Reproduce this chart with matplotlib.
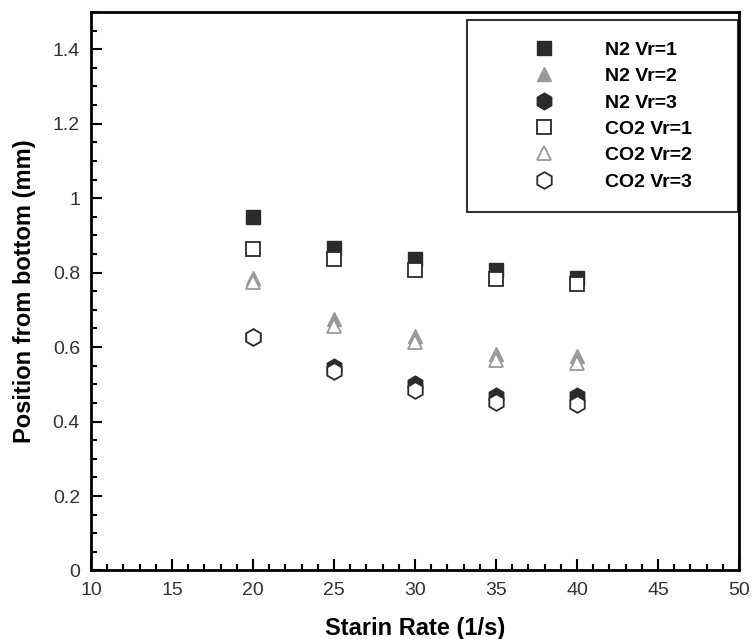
import matplotlib
matplotlib.use("Agg")
import matplotlib.pyplot as plt
from matplotlib.ticker import MultipleLocator

plt.rcParams['font.family'] = ['Liberation Sans', 'DejaVu Sans']

strain_rate = [20, 25, 30, 35, 40]
n2_vr1 = [0.949, 0.866, 0.836, 0.807, 0.785]
n2_vr2 = [0.785, 0.676, 0.630, 0.581, 0.577]
n2_vr3 = [0.628, 0.546, 0.500, 0.468, 0.468]
co2_vr1 = [0.863, 0.836, 0.807, 0.782, 0.770]
co2_vr2 = [0.774, 0.658, 0.615, 0.566, 0.558]
co2_vr3 = [0.627, 0.535, 0.485, 0.452, 0.447]

labels = ["N2 Vr=1", "N2 Vr=2", "N2 Vr=3", "CO2 Vr=1", "CO2 Vr=2", "CO2 Vr=3"]

fig = plt.figure(figsize=(7.53, 6.39), dpi=100)
ax = fig.add_axes([0.1209, 0.1072, 0.8605, 0.874])

dark = '#2b2b2b'
grey = '#9a9a9a'
ax.plot(strain_rate, n2_vr1, 's', ms=9.5, mfc=dark, mec=dark, label=labels[0], ls='none')
ax.plot(strain_rate, n2_vr2, '^', ms=10.5, mfc=grey, mec=grey, label=labels[1], ls='none')
ax.plot(strain_rate, n2_vr3, 'h', ms=12, mfc=dark, mec=dark, label=labels[2], ls='none')
ax.plot(strain_rate, co2_vr1, 's', ms=9.5, mfc='white', mec=dark, mew=1.3, label=labels[3], ls='none')
ax.plot(strain_rate, co2_vr2, '^', ms=10.5, mfc='white', mec=grey, mew=1.3, label=labels[4], ls='none')
ax.plot(strain_rate, co2_vr3, 'h', ms=12, mfc='white', mec=dark, mew=1.3, label=labels[5], ls='none')

ax.set_xlim(10, 50)
ax.set_ylim(0, 1.5)
ax.xaxis.set_major_locator(MultipleLocator(5))
ax.xaxis.set_minor_locator(MultipleLocator(1))
ax.yaxis.set_minor_locator(MultipleLocator(0.05))
ax.set_yticks([0, 0.2, 0.4, 0.6, 0.8, 1.0, 1.2, 1.4])
ax.set_yticklabels(['0', '0.2', '0.4', '0.6', '0.8', '1', '1.2', '1.4'])

for s in ax.spines.values():
    s.set_linewidth(2)
ax.tick_params(which='both', direction='in', top=False, right=False, width=1.5, labelsize=14, labelcolor='#333333')
ax.tick_params(which='major', length=8)
ax.tick_params(which='minor', length=4)
ax.tick_params(axis='x', which='major', pad=8)
ax.tick_params(axis='y', which='major', pad=8)

ax.set_xlabel('Starin Rate (1/s)', fontsize=17, fontweight='bold', labelpad=13)
ax.set_ylabel('Position from bottom (mm)', fontsize=17, fontweight='bold', labelpad=12)

leg = ax.legend(loc='upper left', bbox_to_anchor=(0.580, 0.640, 0.418, 0.346), mode='expand',
                frameon=True, fancybox=False,
                prop={'weight': 'bold', 'size': 14}, handletextpad=0.3, borderpad=1.1,
                labelspacing=0.45, borderaxespad=0, handlelength=5.7)
leg.get_frame().set_edgecolor('black')
leg.get_frame().set_linewidth(1.5)

fig.savefig('out.png', dpi=100)
